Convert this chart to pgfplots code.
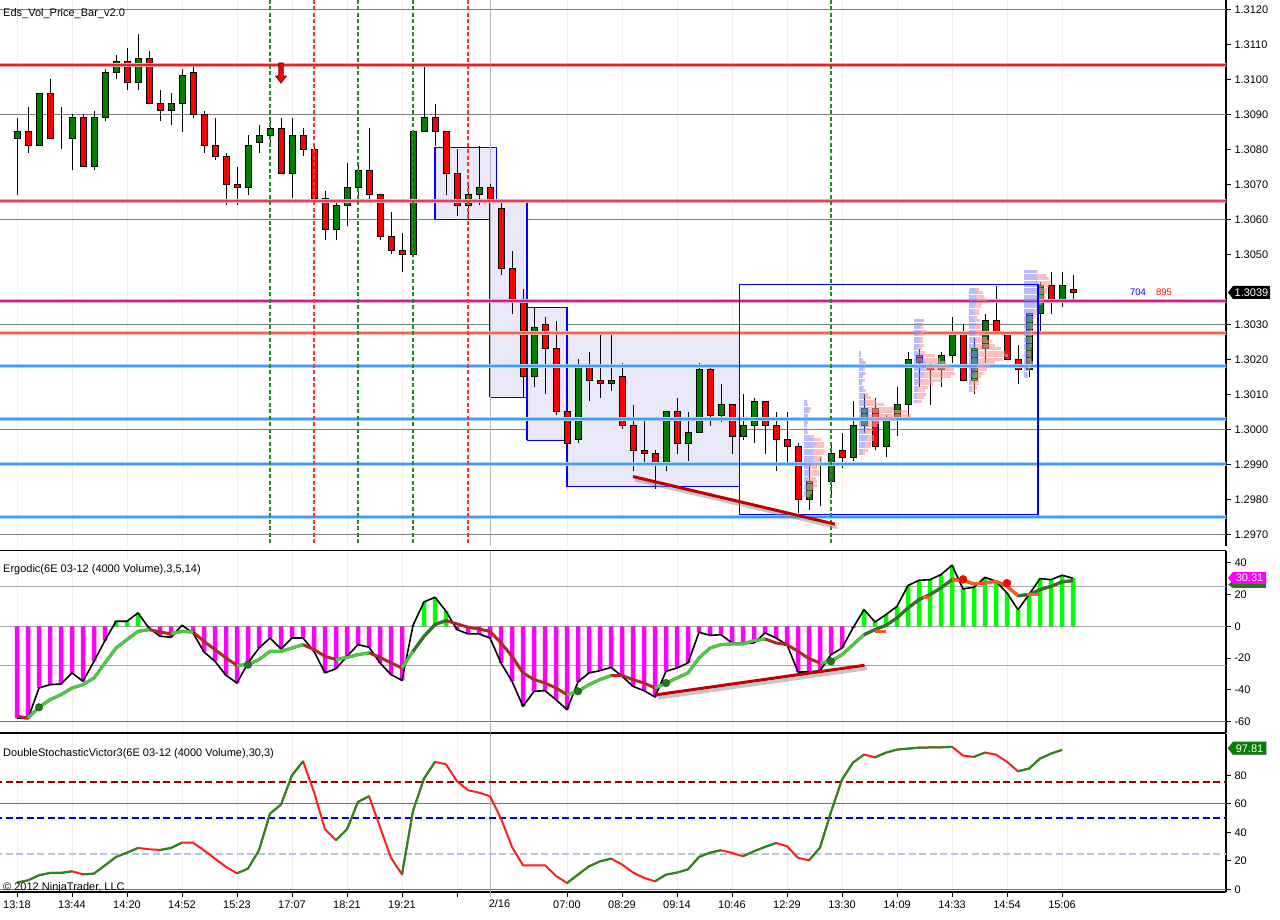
\documentclass[border=0pt]{standalone}
\usepackage{fontspec}
\setmainfont{Liberation Sans}
\usepackage{pgfplots}
\pgfplotsset{compat=1.18}
\usepackage{pgfplotstable}

\definecolor{cgreen}{HTML}{008000}
\definecolor{cred}{HTML}{FF0000}
\definecolor{faint}{HTML}{F6EEE6}
\definecolor{gline}{HTML}{7F7F7F}
\definecolor{boxfill}{HTML}{E8E8F8}
\definecolor{boxblue}{HTML}{0000FF}
\definecolor{lvred}{HTML}{E81E28}\definecolor{lvredh}{HTML}{FFA0A0}
\definecolor{lvcrim}{HTML}{E0405E}\definecolor{lvcrimh}{HTML}{F4A8B8}
\definecolor{lvmag}{HTML}{C8208C}\definecolor{lvmagh}{HTML}{E8A0D0}
\definecolor{lvsal}{HTML}{F26450}\definecolor{lvsalh}{HTML}{F8B8A8}
\definecolor{lvblue}{HTML}{3C9CF8}\definecolor{lvblueh}{HTML}{A8D4FF}
\definecolor{dgreen}{HTML}{1E8C1E}
\definecolor{dred}{HTML}{FF3030}
\definecolor{profblue}{HTML}{8C8CFF}
\definecolor{profpink}{HTML}{FF9696}
\definecolor{hmag}{HTML}{FF00FF}
\definecolor{hlime}{HTML}{00FF00}
\definecolor{siglg}{HTML}{44CC44}
\definecolor{sigdg}{HTML}{287828}
\definecolor{sigred}{HTML}{B22828}
\definecolor{sigor}{HTML}{FF5A1E}
\definecolor{dotg}{HTML}{1E7A1E}
\definecolor{stgreen}{HTML}{1E8C1E}
\definecolor{stred}{HTML}{FF1E1E}
\definecolor{stlA}{HTML}{A00000}
\definecolor{stlB}{HTML}{0000E0}
\definecolor{stlC}{HTML}{B4C4E0}
\definecolor{trend}{HTML}{C00000}
\definecolor{sess}{HTML}{B4B4B4}

\newcommand\tf{\fontsize{11}{13}\selectfont}

\pgfplotstableread{
i o h l c
0 1.3083 1.3089 1.3067 1.3085
1 1.3085 1.3092 1.3079 1.3081
2 1.3081 1.3096 1.3081 1.3096
3 1.3096 1.3100 1.3083 1.3083
4 1.3083 1.3092 1.3080 1.3083
5 1.3083 1.3090 1.3074 1.3089
6 1.3089 1.3090 1.3075 1.3075
7 1.3075 1.3091 1.3074 1.3089
8 1.3089 1.3103 1.3088 1.3102
9 1.3102 1.3107 1.3100 1.3105
10 1.3105 1.3109 1.3097 1.3099
11 1.3099 1.3113 1.3097 1.3106
12 1.3106 1.3108 1.3093 1.3093
13 1.3093 1.3097 1.3088 1.3091
14 1.3091 1.3096 1.3087 1.3093
15 1.3093 1.3103 1.3085 1.3101
16 1.3102 1.3104 1.3089 1.3090
17 1.3090 1.3091 1.3079 1.3081
18 1.3081 1.3089 1.3077 1.3078
19 1.3078 1.3079 1.3064 1.3070
20 1.3070 1.3075 1.3064 1.3069
21 1.3069 1.3084 1.3067 1.3081
22 1.3082 1.3087 1.3079 1.3084
23 1.3084 1.3089 1.3081 1.3086
24 1.3086 1.3089 1.3073 1.3073
25 1.3073 1.3089 1.3066 1.3084
26 1.3084 1.3086 1.3078 1.3080
27 1.3080 1.3081 1.3066 1.3066
28 1.3066 1.3068 1.3054 1.3057
29 1.3057 1.3065 1.3054 1.3064
30 1.3064 1.3076 1.3058 1.3069
31 1.3069 1.3076 1.3066 1.3074
32 1.3074 1.3086 1.3065 1.3067
33 1.3067 1.3067 1.3054 1.3055
34 1.3055 1.3062 1.3050 1.3051
35 1.3051 1.3056 1.3045 1.3050
36 1.3050 1.3085 1.3050 1.3085
37 1.3085 1.3104 1.3085 1.3089
38 1.3089 1.3093 1.3081 1.3085
39 1.3085 1.3085 1.3067 1.3073
40 1.3073 1.3080 1.3061 1.3064
41 1.3064 1.3070 1.3060 1.3067
42 1.3067 1.3081 1.3064 1.3069
43 1.3069 1.3070 1.3065 1.3065
44 1.3063 1.3065 1.3044 1.3046
45 1.3046 1.3051 1.3033 1.3037
46 1.3037 1.3040 1.3009 1.3015
47 1.3015 1.3035 1.3012 1.3029
48 1.3030 1.3032 1.3010 1.3023
49 1.3023 1.3031 1.3004 1.3005
50 1.3005 1.3011 1.2995 1.2996
51 1.2997 1.3020 1.2996 1.3018
52 1.3018 1.3022 1.3008 1.3014
53 1.3014 1.3027 1.3009 1.3013
54 1.3013 1.3027 1.3011 1.3014
55 1.3015 1.3019 1.3000 1.3001
56 1.3001 1.3007 1.2988 1.2994
57 1.2994 1.3003 1.2990 1.2993
58 1.2993 1.2994 1.2983 1.2990
59 1.2990 1.3005 1.2988 1.3005
60 1.3005 1.3009 1.2993 1.2996
61 1.2996 1.3005 1.2991 1.2999
62 1.2999 1.3019 1.2999 1.3017
63 1.3017 1.3018 1.3001 1.3004
64 1.3004 1.3013 1.3002 1.3007
65 1.3007 1.3007 1.2993 1.2998
66 1.2998 1.3010 1.2997 1.3001
67 1.3001 1.3009 1.2996 1.3008
68 1.3008 1.3008 1.2993 1.3001
69 1.3001 1.3005 1.2988 1.2997
70 1.2997 1.3005 1.2990 1.2995
71 1.2995 1.2996 1.2976 1.2980
72 1.2980 1.2990 1.2977 1.2985
73 1.2985 1.2992 1.2978 1.2985
74 1.2985 1.2996 1.2981 1.2993
75 1.2994 1.2999 1.2989 1.2992
76 1.2992 1.3008 1.2991 1.3001
77 1.3001 1.3010 1.2999 1.3006
78 1.3006 1.3009 1.2994 1.2995
79 1.2995 1.3004 1.2992 1.3003
80 1.3003 1.3012 1.2998 1.3007
81 1.3007 1.3022 1.3003 1.3020
82 1.3021 1.3023 1.3012 1.3019
83 1.3018 1.3019 1.3007 1.3017
84 1.3017 1.3022 1.3012 1.3021
85 1.3021 1.3032 1.3019 1.3027
86 1.3027 1.3030 1.3014 1.3014
87 1.3014 1.3026 1.3010 1.3023
88 1.3023 1.3033 1.3019 1.3031
89 1.3031 1.3041 1.3027 1.3027
90 1.3027 1.3028 1.3020 1.3020
91 1.3020 1.3024 1.3013 1.3017
92 1.3017 1.3033 1.3015 1.3033
93 1.3033 1.3042 1.3028 1.3041
94 1.3041 1.3045 1.3033 1.3037
95 1.3037 1.3045 1.3035 1.3041
96 1.3040 1.3044 1.3037 1.3039
}\candles

\pgfplotstableread{
x0 y b p
71.55 1.3008 0.25 0
71.55 1.3007 0.3 0.1
71.55 1.3006 0.45 0.15
71.55 1.3005 0.4 0.1
71.55 1.3004 0.35 0
71.55 1.3003 0.3 0
71.55 1.3002 0.3 0.05
71.55 1.3001 0.3 0
71.55 1.3000 0.25 0
71.55 1.2999 0.3 0.1
71.55 1.2998 0.55 0.35
71.55 1.2997 0.9 0.6
71.55 1.2996 1.2 0.6
71.55 1.2995 0.9 0.9
71.55 1.2994 0.8 1.1
71.55 1.2993 0.9 0.9
71.55 1.2992 1.0 0.6
71.55 1.2991 0.8 0.8
71.55 1.2990 0.6 0.9
71.55 1.2989 0.5 0.7
71.55 1.2988 0.5 0.9
71.55 1.2987 0.45 1.0
71.55 1.2986 0.4 0.7
71.55 1.2985 0.4 0.8
71.55 1.2984 0.3 0.9
71.55 1.2983 0.3 0.6
71.55 1.2982 0.3 0.4
71.55 1.2981 0.2 0.3
76.55 1.3022 0.15 0
76.55 1.3021 0.15 0
76.55 1.3020 0.3 0.05
76.55 1.3019 0.5 0.1
76.55 1.3018 0.45 0.2
76.55 1.3017 0.4 0.1
76.55 1.3016 0.5 0.05
76.55 1.3015 0.35 0
76.55 1.3014 0.4 0.1
76.55 1.3013 0.3 0
76.55 1.3012 0.35 0.1
76.55 1.3011 0.4 0.2
76.55 1.3010 0.5 0.3
76.55 1.3009 0.6 0.5
76.55 1.3008 0.6 0.9
76.55 1.3007 0.7 1.6
76.55 1.3006 0.8 2.4
76.55 1.3005 0.9 3.5
76.55 1.3004 0.9 3.8
76.55 1.3003 0.9 2.5
76.55 1.3002 0.8 1.0
76.55 1.3001 0.7 0.9
76.55 1.3000 0.6 0.7
76.55 1.2999 0.7 0.5
76.55 1.2998 0.8 0.6
76.55 1.2997 0.7 0.7
76.55 1.2996 0.6 0.5
76.55 1.2995 0.5 0.6
76.55 1.2994 0.4 0.4
76.55 1.2993 0.3 0.2
81.55 1.3031 0.9 0
81.55 1.3030 0.7 0.2
81.55 1.3029 0.5 0.3
81.55 1.3028 0.6 0.5
81.55 1.3027 0.4 0.4
81.55 1.3026 0.5 0.3
81.55 1.3025 0.6 0.2
81.55 1.3024 0.5 0.4
81.55 1.3023 0.4 0.3
81.55 1.3022 0.5 0.5
81.55 1.3021 0.9 1.0
81.55 1.3020 1.0 1.4
81.55 1.3019 1.1 1.8
81.55 1.3018 1.1 2.2
81.55 1.3017 1.0 2.6
81.55 1.3016 0.9 2.8
81.55 1.3015 0.8 2.6
81.55 1.3014 0.7 1.8
81.55 1.3013 0.5 1.2
81.55 1.3012 0.4 0.9
81.55 1.3011 0.4 0.6
81.55 1.3010 0.3 0.8
81.55 1.3009 0.3 0.6
81.55 1.3008 0.3 0.4
86.55 1.3040 0.6 0.3
86.55 1.3039 0.7 0.6
86.55 1.3038 0.6 0.8
86.55 1.3037 0.7 0.9
86.55 1.3036 0.6 0.7
86.55 1.3035 0.5 0.6
86.55 1.3034 0.4 0.5
86.55 1.3033 0.5 0.4
86.55 1.3032 0.4 0.3
86.55 1.3031 0.5 0.5
86.55 1.3030 0.6 0.4
86.55 1.3029 0.5 0.6
86.55 1.3028 0.6 0.5
86.55 1.3027 0.5 0.8
86.55 1.3026 0.6 1.0
86.55 1.3025 0.7 1.4
86.55 1.3024 0.6 1.8
86.55 1.3023 0.7 2.2
86.55 1.3022 0.8 2.5
86.55 1.3021 0.9 2.6
86.55 1.3020 0.9 2.2
86.55 1.3019 0.8 1.6
86.55 1.3018 0.7 1.2
86.55 1.3017 0.6 1.0
86.55 1.3016 0.5 0.8
86.55 1.3015 0.4 0.7
86.55 1.3014 0.4 0.5
86.55 1.3013 0.3 0.6
86.55 1.3012 0.3 0.4
86.55 1.3011 0.2 0.3
91.55 1.3045 1.1 0.2
91.55 1.3044 1.2 0.8
91.55 1.3043 1.3 1.0
91.55 1.3042 1.3 1.1
91.55 1.3041 1.4 0.9
91.55 1.3040 1.4 0.7
91.55 1.3039 1.3 0.8
91.55 1.3038 1.4 0.6
91.55 1.3037 1.3 0.5
91.55 1.3036 1.2 0.4
91.55 1.3035 1.1 0.3
91.55 1.3034 1.0 0.3
91.55 1.3033 0.9 0.3
91.55 1.3032 0.8 0.2
91.55 1.3031 0.7 0.2
91.55 1.3030 0.6 0.3
91.55 1.3029 0.6 0.2
91.55 1.3028 0.5 0.3
91.55 1.3027 0.5 0.2
91.55 1.3026 0.5 0.2
91.55 1.3025 0.6 0.1
91.55 1.3024 0.5 0.2
91.55 1.3023 0.5 0.1
91.55 1.3022 0.4 0.2
91.55 1.3021 0.5 0.1
91.55 1.3020 0.4 0.2
91.55 1.3019 0.5 0.3
91.55 1.3018 0.4 0.2
91.55 1.3017 0.4 0.1
91.55 1.3016 0.3 0.1
91.55 1.3015 0.3 0.1
}\profile

\pgfplotstableread{
i e s
0 -57.8 -56.8
1 -58.3 -57.8
2 -38.9 -51.1
3 -36.8 -46.3
4 -36.4 -43.1
5 -29.4 -38.9
6 -34.7 -36.8
7 -22.1 -32.6
8 -9.0 -23.1
9 3.2 -13.7
10 3.2 -8.4
11 8.4 -3.2
12 -1.1 -2.1
13 -6.3 -3.6
14 -6.9 -4.8
15 0.6 -3.2
16 -4.2 -3.6
17 -16.2 -9.5
18 -22.1 -14.7
19 -30.9 -20.0
20 -35.8 -24.6
21 -23.1 -24.2
22 -13.7 -21.0
23 -7.4 -15.8
24 -14.3 -15.8
25 -7.4 -13.7
26 -7.4 -11.6
27 -15.8 -14.7
28 -29.4 -18.9
29 -26.7 -21.0
30 -18.9 -19.6
31 -11.6 -17.9
32 -13.2 -16.8
33 -23.1 -19.6
34 -30.5 -23.1
35 -34.1 -26.3
36 0.6 -15.8
37 15.4 -6.3
38 18.3 1.1
39 9.5 3.6
40 -2.1 1.5
41 -4.8 -0.6
42 -4.8 -1.7
43 -7.4 -3.2
44 -23.1 -10.5
45 -34.7 -18.9
46 -50.5 -29.4
47 -41.0 -33.6
48 -40.6 -35.8
49 -46.3 -38.9
50 -52.6 -43.1
51 -35.1 -41.0
52 -29.4 -36.8
53 -28.0 -33.6
54 -25.9 -31.1
55 -31.5 -31.1
56 -37.9 -33.6
57 -40.6 -35.8
58 -44.6 -38.9
59 -28.4 -35.8
60 -26.3 -32.6
61 -23.1 -29.4
62 -3.8 -20.0
63 -5.7 -13.7
64 -5.3 -11.6
65 -10.5 -11.1
66 -10.9 -11.1
67 -10.5 -9.0
68 -4.2 -8.0
69 -7.4 -10.5
70 -11.6 -11.6
71 -28.8 -15.8
72 -28.8 -20.4
73 -28.0 -23.1
74 -17.9 -22.1
75 -13.7 -17.9
76 -1.0 -11.6
77 10.5 -5.3
78 2.7 -2.1
79 7.4 0.6
80 12.6 5.3
81 25.7 11.6
82 29.0 16.8
83 29.4 20.0
84 32.6 24.2
85 38.5 29.4
86 23.6 29.0
87 24.6 26.7
88 30.9 27.3
89 28.4 28.4
90 21.0 25.2
91 10.5 19.3
92 20.0 20.0
93 30.1 23.1
94 29.4 25.2
95 32.2 28.0
96 30.31 28.8
}\erg

\pgfplotstableread{
i v
0 4.7
1 6.3
2 9.8
3 11.5
4 11.5
5 12.6
6 10.5
7 11.0
8 16.8
9 22.7
10 25.7
11 29.0
12 28.1
13 27.6
14 29.0
15 32.7
16 32.7
17 27.4
18 21.5
19 15.7
20 11.2
21 14.5
22 27.4
23 53.1
24 59.4
25 80.0
26 89.8
27 68.3
28 42.1
29 34.4
30 42.1
31 61.3
32 65.3
33 43.7
34 22.0
35 10.5
36 55.0
37 77.7
38 89.4
39 87.7
40 75.8
41 69.5
42 67.8
43 65.3
44 49.6
45 29.7
46 16.8
47 16.8
48 16.8
49 9.4
50 4.4
51 10.3
52 16.1
53 19.6
54 21.5
55 17.4
56 11.8
57 8.0
58 5.6
59 10.3
60 11.7
61 14.0
62 22.7
63 25.7
64 27.4
65 25.5
66 23.2
67 26.7
68 29.7
69 32.5
70 30.2
71 22.0
72 20.4
73 29.2
74 54.3
75 77.0
76 88.9
77 94.5
78 92.6
79 95.9
80 98.0
81 98.7
82 99.4
83 99.5
84 99.6
85 100.0
86 93.8
87 92.9
88 95.9
89 94.5
90 89.4
91 82.8
92 84.7
93 91.7
94 95.2
95 97.81
}\stoch

\pgfplotsset{
  base/.style={scale only axis, width=1226pt, xmin=-1.5455, xmax=109.909,
    enlargelimits=false, clip=true},
  pricey/.style={height=546pt, ymin=1.296666, ymax=1.312266},
  ergy/.style={height=182.5pt, ymin=-67.3, ymax=47.8},
  stochy/.style={height=158.5pt, ymin=-1.9, ymax=109.3},
  ticksx/.style={xtick={0,5,10,15,20,25,30,35,40,50,55,60,65,70,75,80,85,90,95},
    xmajorgrids, major grid style={color=faint, line width=0.8pt}},
  nolabx/.style={xticklabels={,,,,,,,,,,,,,,,,,,,,}, major x tick style=transparent},
  rightax/.style={axis x line*=bottom, axis y line*=right,
    axis line style={black, line width=1.2pt},
    yticklabel pos=right, tick label style={font=\tf},
    tick align=outside, major tick length=5pt, tick style={black, line width=0.8pt},
    yticklabel style={/pgf/number format/assume math mode=true}},
}

\begin{document}
\begin{tikzpicture}[x=1pt,y=1pt]
\fill[white] (0,0) rectangle (1280,919);
\path[use as bounding box] (0,0) rectangle (1280,919);

% ---------------- price background
\begin{axis}[base, pricey, rightax, ticksx, nolabx, at={(0pt,373pt)}, anchor=south west,
  x axis line style={draw=none},
  ytick={1.2970,1.2980,1.2990,1.3000,1.3010,1.3020,1.3030,1.3050,1.3060,1.3070,1.3080,1.3090,1.3100,1.3110,1.3120},
  scaled y ticks=false,
  yticklabel style={/pgf/number format/.cd, fixed, fixed zerofill, precision=4, assume math mode=true},
]
\pgfplotsinvokeforeach{1.2970,1.3000,1.3030,1.3060,1.3090,1.3120}{
  \addplot[gline, line width=1pt, forget plot] coordinates {(-2,#1) (111,#1)};
}
% value-area boxes
\addplot[fill=boxfill, draw=boxblue, line width=1.1pt] coordinates {(38.0,1.30600) (43.55,1.30600) (43.55,1.30806) (38.0,1.30806) (38.0,1.30600)};
\addplot[fill=boxfill, draw=boxblue, line width=1.1pt] coordinates {(43.0,1.30091) (46.36,1.30091) (46.36,1.30654) (43.0,1.30654) (43.0,1.30091)};
\addplot[fill=boxfill, draw=boxblue, line width=1.1pt] coordinates {(46.36,1.29969) (50.0,1.29969) (50.0,1.30349) (46.36,1.30349) (46.36,1.29969)};
\addplot[fill=boxfill, draw=boxblue, line width=1.1pt] coordinates {(50.0,1.29836) (65.64,1.29836) (65.64,1.30274) (50.0,1.30274) (50.0,1.29836)};
\addplot[sess, line width=1pt] coordinates {(43,1.2960) (43,1.3130)};
% wicks
\addplot[draw=none, mark=none, error bars/.cd, y dir=plus, y explicit, error mark=none,
  error bar style={draw=black, solid, line width=1pt}]
  table[x=i, y=l, y error expr=\thisrow{h}-\thisrow{l}] {\candles};
\end{axis}

% ---------------- candle bodies
\begin{axis}[base, pricey, at={(0pt,373pt)}, anchor=south west, hide axis,
  ybar stacked, bar width=6pt]
\addplot[draw=none, fill=none] table[x=i, y expr={min(\thisrow{o},\thisrow{c})}] {\candles};
\addplot[fill=cgreen, draw=black, line width=0.9pt] table[x=i, y expr={max(\thisrow{c}-\thisrow{o},0)}] {\candles};
\addplot[fill=cred, draw=black, line width=0.9pt] table[x=i, y expr={max(\thisrow{o}-\thisrow{c},0)}] {\candles};
\end{axis}

% ---------------- overlays
\begin{axis}[base, pricey, at={(0pt,373pt)}, anchor=south west, hide axis]
% levels
\addplot[lvredh, line width=4pt] coordinates {(-2,1.31041) (111,1.31041)};
\addplot[lvred, line width=2pt] coordinates {(-2,1.31041) (111,1.31041)};
\addplot[lvcrimh, line width=4pt] coordinates {(-2,1.30652) (111,1.30652)};
\addplot[lvcrim, line width=2pt] coordinates {(-2,1.30652) (111,1.30652)};
\addplot[lvmagh, line width=4pt] coordinates {(-2,1.30367) (111,1.30367)};
\addplot[lvmag, line width=2pt] coordinates {(-2,1.30367) (111,1.30367)};
\addplot[lvsalh, line width=4pt] coordinates {(-2,1.30274) (111,1.30274)};
\addplot[lvsal, line width=2pt] coordinates {(-2,1.30274) (111,1.30274)};
\pgfplotsinvokeforeach{1.30181,1.30029,1.29900,1.29750}{
  \addplot[lvblueh, line width=4pt] coordinates {(-2,#1) (111,#1)};
  \addplot[lvblue, line width=2pt] coordinates {(-2,#1) (111,#1)};
}
% volume profiles
\addplot[draw=none, mark=none, error bars/.cd, x dir=plus, x explicit, error mark=none,
  error bar style={draw=profblue, solid, opacity=0.6, line width=3.1pt, line cap=butt}]
  table[x=x0, y=y, x error=b] {\profile};
\addplot[draw=none, mark=none, error bars/.cd, x dir=plus, x explicit, error mark=none,
  error bar style={draw=profpink, solid, opacity=0.6, line width=3.1pt, line cap=butt}]
  table[x expr=\thisrow{x0}+\thisrow{b}, y=y, x error=p] {\profile};
% open box
\addplot[draw=boxblue, line width=1.1pt] coordinates {(65.64,1.29757) (92.82,1.29757) (92.82,1.30414) (65.64,1.30414) (65.64,1.29757)};
% session dashed lines
\pgfplotsinvokeforeach{23,31,36,74}{
  \addplot[dgreen, line width=2pt, dash pattern=on 4pt off 2.5pt] coordinates {(#1,1.2960) (#1,1.3130)};
}
\pgfplotsinvokeforeach{27,41}{
  \addplot[dred, line width=2pt, dash pattern=on 4pt off 2.5pt] coordinates {(#1,1.2960) (#1,1.3130)};
}
% trend line with shadow
\addplot[black!45, opacity=0.5, line width=3.5pt] coordinates {(56.2,1.29856) (74.56,1.29720)};
\addplot[trend, line width=3pt] coordinates {(56.0,1.29865) (74.36,1.29729)};
% sell arrow
\addplot[fill=cred, draw=black!70!red, line width=0.7pt] coordinates {(23.8,1.310466) (24.2,1.310466) (24.2,1.310094) (24.5,1.310094) (24,1.309894) (23.5,1.310094) (23.8,1.310094) (23.8,1.310466)};
\end{axis}

% ---------------- ergodic
\begin{axis}[base, ergy, rightax, ticksx, nolabx, at={(0pt,186pt)}, anchor=south west,
  ytick={-60,-40,-20,0,20,40}]
\pgfplotsinvokeforeach{25,0,-25}{
  \addplot[black!35, line width=1pt] coordinates {(-2,#1) (111,#1)};
}
\addplot[black!55, line width=1pt] coordinates {(-2,-60) (111,-60)};
\addplot[sess, line width=1pt] coordinates {(43,-80) (43,60)};
\addplot[ybar, bar width=4.5pt, bar shift=0pt, fill=hmag, draw=none]
  table[x=i, y expr={\thisrow{e}<0 ? \thisrow{e} : 0}] {\erg};
\addplot[ybar, bar width=4.5pt, bar shift=0pt, fill=hlime, draw=none]
  table[x=i, y expr={\thisrow{e}>0 ? \thisrow{e} : 0}] {\erg};
\addplot[black, line width=1.6pt, line join=round] table[x=i, y=e] {\erg};
\addplot[sigred, line width=3pt, line join=round] table[x=i, y=s] {\erg};
\pgfplotsinvokeforeach{1:12,14:16,20:26,29:32,35:36,50:54,58:68,73:77}{
  \addplot[siglg, line width=3pt, line join=round, restrict x to domain=#1] table[x=i, y=s] {\erg};
}
\pgfplotsinvokeforeach{36:39,77:85,91:96}{
  \addplot[sigdg, line width=3pt, line join=round, restrict x to domain=#1] table[x=i, y=s] {\erg};
}
\addplot[sigor, line width=3pt, line join=round, restrict x to domain=85:91] table[x=i, y=s] {\erg};
\addplot[sigor, line width=3pt] coordinates {(78,-3.2) (79,-3.2)};
\addplot[sigor, line width=3pt] coordinates {(82.4,17.9) (83,17.9)};
\addplot[sigor, line width=3pt] coordinates {(91.8,20) (93,20)};
\addplot[only marks, mark=*, mark size=3.8pt, mark options={fill=dotg, draw=dotg!70!black}]
  coordinates {(2,-51.1) (21,-24.2) (51,-41.0) (59,-35.8) (74,-22.1)};
\addplot[only marks, mark=*, mark size=4pt, mark options={fill=cred, draw=cred}]
  coordinates {(86,29.6) (90,27.2)};
\addplot[black!45, opacity=0.5, line width=3.5pt] coordinates {(58.3,-45.2) (77.25,-26.6)};
\addplot[trend, line width=3pt] coordinates {(58.1,-43.2) (77.05,-24.6)};
\end{axis}

% ---------------- stochastic
\begin{axis}[base, stochy, rightax, ticksx, at={(0pt,27pt)}, anchor=south west,
  ytick={0,20,40,60,80},
  xticklabels={13:18,13:44,14:20,14:52,15:23,17:07,18:21,19:21,{},07:00,08:29,09:14,10:46,12:29,13:30,14:09,14:33,14:54,15:06}]
\addplot[black!55, line width=1pt] coordinates {(-2,0) (111,0)};
\addplot[black!55, line width=1pt] coordinates {(-2,60) (111,60)};
\addplot[sess, line width=1pt] coordinates {(43,-5) (43,120)};
\addplot[stlA, line width=2pt, dash pattern=on 7pt off 3.5pt] coordinates {(-2,75) (111,75)};
\addplot[stlB, line width=2pt, dash pattern=on 7pt off 3.5pt] coordinates {(-2,50) (111,50)};
\addplot[stlC, line width=2pt, dash pattern=on 7pt off 3.5pt] coordinates {(-2,25) (111,25)};
\addplot[stred, line width=2pt, line join=round] table[x=i, y=v] {\stoch};
\pgfplotsinvokeforeach{0:5,6:11,13:15,20:26,29:32,35:38,50:54,58:64,66:69,72:77,78:85,87:88,91:95}{
  \addplot[stgreen, line width=2pt, line join=round, restrict x to domain=#1] table[x=i, y=v] {\stoch};
}
\end{axis}

% separators
\draw[black, line width=1.3pt] (0,368.5) -- (1226,368.5);
\draw[black, line width=1.3pt] (0,185.5) -- (1226,185.5);
\draw[sess, line width=1pt] (490,27) -- (490,22);

% titles
\node[anchor=base west, inner sep=0, font=\tf] at (3,902.5) {Eds\_Vol\_Price\_Bar\_v2.0};
\node[anchor=base west, inner sep=0, font=\tf] at (3,346) {Ergodic(6E 03-12 (4000 Volume),3,5,14)};
\node[anchor=base west, inner sep=0, font=\tf] at (3,163) {DoubleStochasticVictor3(6E 03-12 (4000 Volume),30,3)};
\node[anchor=base west, inner sep=0, font=\tf] at (3,29) {© 2012 NinjaTrader, LLC};
\node[anchor=base, inner sep=0, font=\tf] at (499.5,12) {2/16};

% volume numbers
\node[font=\fontsize{9.5}{11}\selectfont, text=blue, inner sep=0] at (1138,627) {704};
\node[font=\fontsize{9.5}{11}\selectfont, text=red, inner sep=0] at (1164,627) {895};

% price tag
\fill[black] (1228,626.5) -- (1233,633) -- (1270,633) -- (1270,620) -- (1233,620) -- cycle;
\node[text=white, font=\tf, inner sep=0] at (1251.5,626.5) {1.3039};
% ergodic tags
\fill[sigdg] (1228,334.5) -- (1233,338) -- (1266,338) -- (1266,331) -- (1233,331) -- cycle;
\fill[hmag] (1228,341) -- (1233,347) -- (1266,347) -- (1266,335) -- (1233,335) -- cycle;
\node[text=white, font=\tf, inner sep=0] at (1249.5,341) {30.31};
% stoch tag
\filldraw[fill=cgreen, draw=black!60, line width=0.5pt] (1228,170.7) -- (1233,177) -- (1266,177) -- (1266,164.3) -- (1233,164.3) -- cycle;
\node[text=white, font=\tf, inner sep=0] at (1249.5,170.7) {97.81};
\end{tikzpicture}
\end{document}
